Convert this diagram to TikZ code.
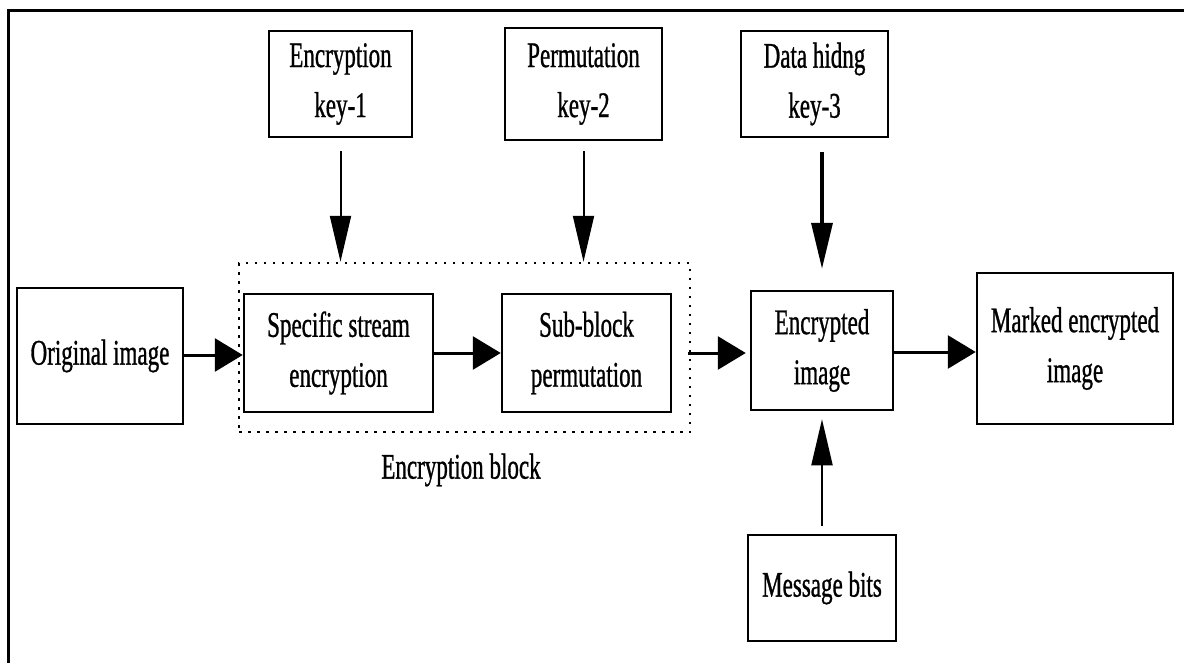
\documentclass[tikz,border=0pt]{standalone}
\usepackage{fontspec}
\setmainfont{Liberation Serif}[FakeStretch=0.64,FakeBold=0.8]
\usetikzlibrary{arrows.meta}

\begin{document}
\begin{tikzpicture}[x=1pt,y=-1pt,
	font=\fontsize{36}{50}\selectfont,
	blockbox/.style={draw, line width=2.5pt, align=center, inner sep=0pt},
	hflow/.style={line width=3pt, -{Triangle[length=28pt,width=33pt]}},
	vflow/.style={line width=2pt, -{Triangle[length=46pt,width=21pt]}}]
	
	\useasboundingbox (0,0) rectangle (1184,662);
	\draw [line width=3pt] (1190,10) -- (8,10) -- (8,670);
	
	% keys on top
	\node [blockbox, minimum width=143pt, minimum height=106pt] (key1) at (340.5,84) {Encryption\\key-1};
	\node [blockbox, minimum width=157pt, minimum height=112pt] (key2) at (583.5,84) {Permutation\\key-2};
	\node [blockbox, minimum width=147pt, minimum height=106pt] (key3) at (814.5,84) {Data hidng\\key-3};
	
	% main chain
	\node [blockbox, minimum width=166pt, minimum height=136pt] (orig) at (100,356) {Original image};
	\node [draw, line width=2.5pt, dash pattern=on 2.5pt off 6.5pt, minimum width=451pt, minimum height=169pt] (encblock) at (464.5,347.5) {};
	\node [blockbox, minimum width=189pt, minimum height=118pt] (spec) at (338.5,353) {Specific stream\\encryption};
	\node [blockbox, minimum width=169pt, minimum height=118pt] (subb) at (586.5,353) {Sub-block\\permutation};
	\node [blockbox, minimum width=142pt, minimum height=119pt] (enc) at (822,350.5) {Encrypted\\image};
	\node [blockbox, minimum width=196pt, minimum height=151pt] (mark) at (1075,348.5) {Marked encrypted\\image};
	\node [blockbox, minimum width=148pt, minimum height=106pt] (msg) at (822,588) {Message bits};
	\node (blocklabel) at (461,470) {Encryption block};
	
	\draw [hflow] (orig.east |- 0,355) -- (spec.west |- 0,355);
	\draw [hflow] (spec.east) -- (subb.west);
	\draw [hflow, shorten <=-3pt, shorten >=4pt] (encblock.east |- 0,353) -- (enc.west |- 0,353);
	\draw [hflow] (enc.east |- 0,352) -- (mark.west |- 0,352);
	
	\draw [vflow, shorten <=13pt] (key1.south) -- (key1.south |- encblock.north);
	\draw [vflow, shorten <=10pt] (key2.south) -- (key2.south |- encblock.north);
	\draw [vflow, line width=3.5pt, shorten <=14pt, shorten >=21pt] (enc.north |- key3.south) -- (enc.north);
	\draw [vflow, shorten <=8pt, shorten >=8pt] (msg.north) -- (enc.south);
	
\end{tikzpicture}
\end{document}
